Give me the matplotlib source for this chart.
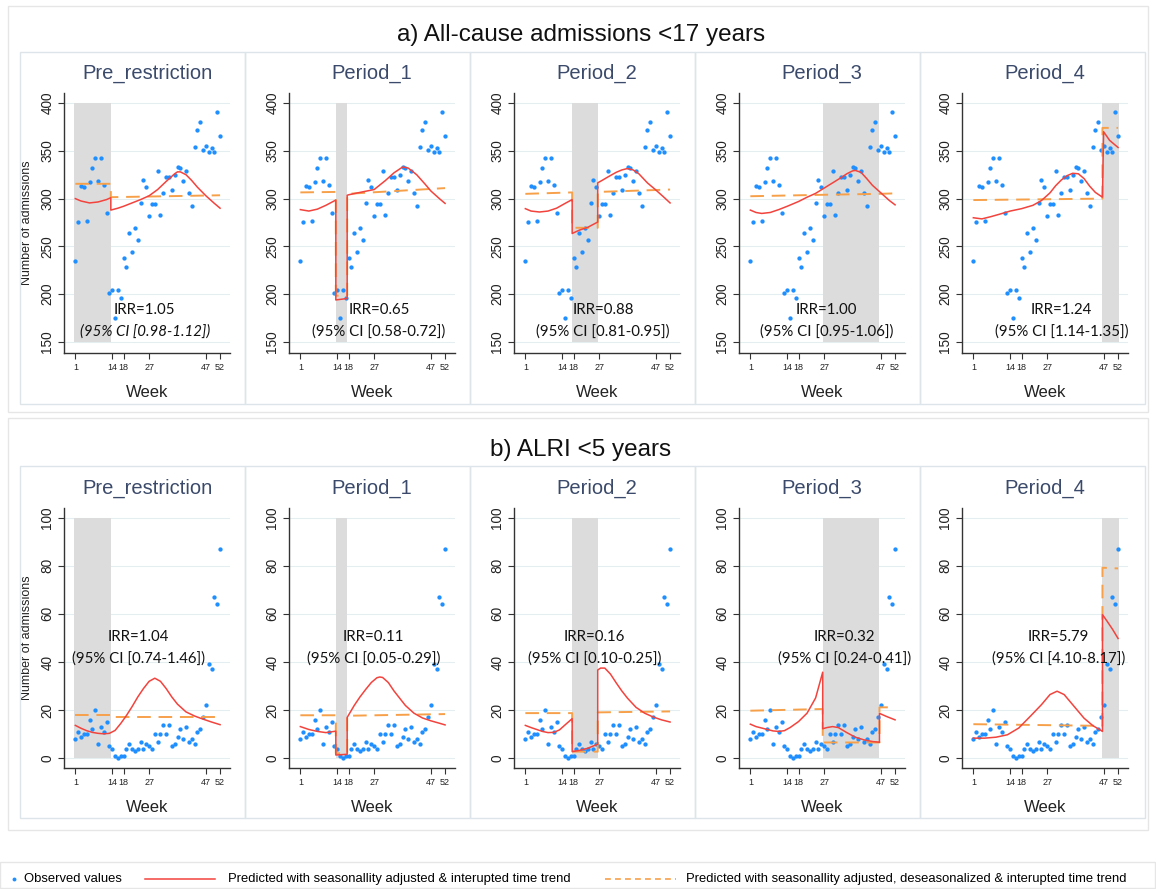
import numpy as np
import matplotlib.pyplot as plt
from matplotlib.patches import Rectangle
from matplotlib.lines import Line2D

plt.rcParams['font.family'] = ['Liberation Sans', 'DejaVu Sans']

# ---- data ----
weeks = np.arange(1, 53)
xticks = [1, 14, 18, 27, 47, 52]
panel_names = ['Pre_restriction', 'Period_1', 'Period_2', 'Period_3', 'Period_4']
shade_spans = [(0.5, 13.5), (13.5, 17.5), (17.5, 26.5), (26.5, 46.5), (46.5, 52.5)]

allcause_obs = [235, 276, 313, 312, 277, 317, 332, 343, 318, 342, 314, 285, 201, 204, 175, 204,
                196, 238, 228, 264, 244, 269, 257, 295, 320, 312, 282, 294, 294, 329, 283, 306,
                323, 323, 309, 325, 333, 332, 318, 329, 306, 292, 354, 372, 380, 351, 355, 349,
                353, 349, 391, 365]
alri_obs = [8, 11, 9, 10, 10, 16, 12, 20, 6, 13, 11, 15, 5, 4, 1, 0, 1, 1, 4, 6, 4, 3, 4, 7, 4, 6,
            5, 4, 10, 7, 10, 14, 10, 14, 5, 6, 9, 12, 8, 13, 7, 8, 6, 11, 12, 17, 22, 39, 37, 67,
            64, 87]

# all-cause, red (seasonality adjusted & interrupted trend)
ac_red_x = [
    [1, 3, 6, 9, 12, 13.5, 13.5, 16, 18, 21, 24, 27, 30, 33, 36, 37, 38, 40, 42, 44, 47, 50, 52],
    [1, 4, 7, 10, 13.5, 13.5, 17.5, 17.5, 18, 22, 27, 31, 34, 37, 39, 42, 45, 47, 50, 52],
    [1, 3, 6, 9, 12, 15, 17.5, 17.5, 20, 23, 26.5, 26.5, 28, 30, 33, 35, 37, 39, 41, 44, 47, 50, 52],
    [1, 3, 5, 8, 11, 14, 18, 21, 24, 27, 30, 33, 35, 37, 38, 40, 42, 44, 47, 50, 52],
    [1, 4, 7, 10, 14, 18, 22, 25, 28, 30, 32, 34, 36, 38, 40, 42, 44, 46.5, 46.9, 49, 52],
]
ac_red_y = [
    [300, 297.5, 295.5, 296.5, 299, 301, 288, 290, 292, 295.5, 299, 303, 309.5, 318, 326, 328, 328, 325, 319, 312, 303, 295, 290],
    [288.5, 287, 289, 293, 298.5, 194, 195.5, 303.5, 304, 306.5, 309.5, 319, 327, 333, 332, 325, 315, 308, 300, 295],
    [289.5, 287, 286, 287, 290, 295, 299, 263.5, 267, 270, 275.5, 316.5, 319, 322.5, 327.5, 330, 331.5, 330, 326, 316.5, 309, 301, 295.5],
    [288, 285.5, 284.5, 285.5, 288.5, 292, 297, 301.5, 305.5, 311, 316.5, 322, 326, 329, 329.5, 327.5, 321, 314, 306, 298, 293.5],
    [280, 278.8, 281, 283.5, 287, 289.5, 293, 298, 306, 313.5, 319.5, 324, 326.5, 326, 321, 313, 306.5, 301.5, 370, 361, 353.5],
]
# all-cause, orange (deseasonalized & interrupted trend)
ac_org_x = [
    [1, 13.5, 13.5, 52],
    [1, 13.5, 13.5, 17.5, 17.5, 52],
    [1, 17.5, 17.5, 26.5, 26.5, 52],
    [1, 26.5, 46.5, 52],
    [1, 46.5, 46.5, 52],
]
ac_org_y = [
    [315.5, 315.5, 301.5, 303.5],
    [306.5, 307, 198.5, 198.5, 305, 311],
    [305, 306.5, 269.5, 269.5, 307, 309.5],
    [302.5, 304, 305, 305.5],
    [298.5, 300, 374, 374],
]
ac_irr = ['IRR=1.05', 'IRR=0.65', 'IRR=0.88', 'IRR=1.00', 'IRR=1.24']
ac_ci = ['(95% CI [0.98-1.12])', '(95% CI [0.58-0.72])', '(95% CI [0.81-0.95])',
         '(95% CI [0.95-1.06])', '(95% CI [1.14-1.35])']
ac_irr_x = [25.5, 28.7, 28.4, 27.9, 32]

# ALRI, red
al_red_x = [
    [1, 3, 5, 7, 9, 11, 13, 15, 17, 19, 21, 23, 25, 27, 29, 31, 33, 35, 37, 40, 43, 46, 49, 52],
    [1, 4, 7, 10, 13.5, 13.5, 17.5, 17.5, 20, 22, 24, 26, 28, 29, 30, 32, 34, 36, 38, 41, 44, 47, 50, 52],
    [1, 3, 5, 7, 9, 11, 13, 15, 17.5, 17.5, 20, 23, 26.5, 26.5, 27.5, 29, 31, 33, 35, 37, 40, 43, 46, 49, 52],
    [1, 3, 5, 7, 9, 11, 13, 15, 18, 21, 24, 26.5, 26.5, 28, 30, 32, 35, 38, 41, 44, 46.5, 46.5, 49, 52],
    [1, 5, 9, 13, 17, 21, 25, 28, 30.5, 33, 36, 40, 43, 46.5, 46.5, 48, 50, 52],
]
al_red_y = [
    [13.7, 12.5, 11.5, 10.8, 10.4, 10.2, 10.4, 11.6, 14.5, 17.8, 21.5, 25.5, 29, 32, 33.3, 32, 29, 25.5, 22.5, 19.3, 17.6, 16.3, 15.1, 14],
    [13.2, 12, 11.2, 10.7, 11.3, 1.4, 1.7, 17, 22, 25.5, 28.6, 31.5, 33.5, 33.8, 33.6, 31.5, 28, 25, 22, 18.8, 16.8, 15.6, 14.6, 13.9],
    [13.7, 12.8, 12, 11.2, 10.7, 10.8, 11.8, 13.9, 16.5, 2.8, 3.3, 4.2, 5.9, 36.7, 37.5, 37.5, 35, 31.4, 28, 25, 21.2, 18.8, 17.2, 16, 15.1],
    [14.2, 13.2, 12.6, 12, 11.4, 11.2, 11.5, 12.8, 15.3, 18.8, 25.1, 35.8, 12.3, 12.8, 13.2, 12.8, 10.7, 8.8, 7.7, 7, 6.7, 18.7, 17.4, 16],
    [8.4, 8.4, 8.8, 9.8, 12.6, 17.4, 22.3, 26.5, 27.9, 26.5, 22.3, 16.7, 13.7, 11.2, 59.7, 57.2, 53.7, 49.8],
]
al_org_x = [
    [1, 13.5, 13.5, 52],
    [1, 13.5, 13.5, 17.5, 17.5, 52],
    [1, 17.5, 17.5, 26.5, 26.5, 52],
    [1, 26.5, 26.5, 46.5, 46.5, 52],
    [1, 46.5, 46.5, 52],
]
al_org_y = [
    [17.9, 17.9, 17.3, 17.3],
    [17.9, 17.9, 2.1, 2.1, 17.7, 18.4],
    [18.8, 18.8, 2.8, 2.8, 19.1, 19.5],
    [19.8, 20.5, 6.6, 6.6, 21.2, 21.2],
    [14.2, 13.5, 79.2, 78.9],
]
al_irr = ['IRR=1.04', 'IRR=0.11', 'IRR=0.16', 'IRR=0.32', 'IRR=5.79']
al_ci = ['(95% CI [0.74-1.46])', '(95% CI [0.05-0.29])', '(95% CI [0.10-0.25])',
         '(95% CI [0.24-0.41])', '(95% CI [4.10-8.17])']
al_irr_x = [23.1, 26.7, 25.3, 34.3, 31]

# ---- styling ----
W, H = 1156, 889
BLUE = '#1f8fff'
RED = '#f2433d'
ORANGE = '#f7a04a'
SHADE = '#dcdcdc'
TITLE_C = '#3b4a6b'
BOX_C = '#dde5ea'
NARROW = ['Liberation Sans Narrow', 'Liberation Sans', 'DejaVu Sans']

fig = plt.figure(figsize=(W / 100, H / 100), dpi=100)


def px_axes(l, t, w, h):
    return fig.add_axes([l / W, 1 - (t + h) / H, w / W, h / H])


def box(l, t, w, h, ec, lw=1.0):
    fig.add_artist(Rectangle((l / W, 1 - (t + h) / H), w / W, h / H,
                             transform=fig.transFigure, fill=False, ec=ec, lw=lw))


# frames
box(8, 6, 1140, 406, '#e6e6e6')
box(8, 418, 1140, 412, '#e6e6e6')
for i in range(5):
    box(20 + 225 * i, 52, 225, 352, BOX_C)
    box(20 + 225 * i, 466, 225, 352, BOX_C)
box(0, 862, 1155, 26, '#e6e6e6')

fig.text(581 / W, 1 - 35 / H, 'a) All-cause admissions <17 years', ha='center', va='center',
         fontsize=17.5, color='#111111')
fig.text(581 / W, 1 - 450 / H, 'b) ALRI <5 years', ha='center', va='center',
         fontsize=17.5, color='#111111')

lefts = [64, 289, 514, 739, 962]
rows = [
    dict(top=93, obs=allcause_obs, rx=ac_red_x, ry=ac_red_y, ox=ac_org_x, oy=ac_org_y,
         irr=ac_irr, ci=ac_ci, ix=ac_irr_x, iy=(184, 161), span=(150, 400),
         ylim=(138.5, 410.5), yt=[150, 200, 250, 300, 350, 400]),
    dict(top=508, obs=alri_obs, rx=al_red_x, ry=al_red_y, ox=al_org_x, oy=al_org_y,
         irr=al_irr, ci=al_ci, ix=al_irr_x, iy=(50.6, 41.5), span=(0, 100),
         ylim=(-4, 104), yt=[0, 20, 40, 60, 80, 100]),
]

for r, row in enumerate(rows):
    for i in range(5):
        ax = px_axes(lefts[i], row['top'], 166, 260)
        ax.set_axisbelow(True)
        a, b = shade_spans[i]
        ax.fill_between([a, b], row['span'][0], row['span'][1], color=SHADE, lw=0, zorder=1)
        ax.plot(weeks, row['obs'], 'o', color=BLUE, ms=3.1, mec='none', zorder=3)
        ax.plot(row['ox'][i], row['oy'][i], color=ORANGE, lw=1.4, dashes=(7, 4), zorder=4)
        ax.plot(row['rx'][i], row['ry'][i], color=RED, lw=1.1, zorder=5)
        ax.set_xlim(-3, 55.5)
        ax.set_ylim(*row['ylim'])
        ax.set_yticks(row['yt'])
        ax.set_yticklabels([str(v) for v in row['yt']], rotation=90, va='center',
                           fontsize=9.8, color='#222222')
        ax.set_xticks(xticks)
        ax.set_xticklabels([str(v) for v in xticks], fontsize=6.5, color='#222222')
        ax.tick_params(axis='both', direction='out', length=4, width=0.8, color='#333333')
        ax.tick_params(axis='y', pad=3)
        ax.yaxis.grid(True, color='#e4eef1', lw=0.8)
        for s in ['top', 'right']:
            ax.spines[s].set_visible(False)
        for s in ['left', 'bottom']:
            ax.spines[s].set_color('#333333')
            ax.spines[s].set_linewidth(1.0)
        ax.set_xlabel('Week', fontsize=12, labelpad=9, color='#222222')
        if i == 0:
            ax.set_ylabel('Number of admissions', fontsize=9, labelpad=5, color='#222222')
        ax.set_title(panel_names[i], fontsize=14.5, color=TITLE_C, pad=10)
        ax.text(row['ix'][i], row['iy'][0], row['irr'][i], ha='center', va='center',
                fontsize=10.8, family=['Lato', 'DejaVu Sans'], color='#111111', zorder=6)
        style = 'italic' if (r == 0 and i == 0) else 'normal'
        ax.text(row['ix'][i], row['iy'][1], row['ci'][i], ha='center', va='center',
                fontsize=10.8, family=['Lato', 'DejaVu Sans'], style=style,
                color='#111111', zorder=6)

# legend strip
lg = fig.add_axes([0, 0, 1, 27 / H])
lg.set_xlim(0, W)
lg.set_ylim(0, 27)
lg.axis('off')
ly = 10
lg.add_line(Line2D([14], [ly], marker='o', ms=2.8, color=BLUE, mec='none', ls='none'))
lg.text(24, ly, 'Observed values', va='center', fontsize=9.4, family=NARROW)
lg.add_line(Line2D([145, 215], [ly, ly], color=RED, lw=1.1))
lg.text(228, ly, 'Predicted with seasonallity adjusted & interupted time trend', va='center',
        fontsize=9.4, family=NARROW)
lg.add_line(Line2D([605, 676], [ly, ly], color=ORANGE, lw=1.2, dashes=(3.5, 2.5)))
lg.text(686, ly, 'Predicted with seasonallity adjusted, deseasonalized & interupted time trend',
        va='center', fontsize=9.4, family=NARROW)

fig.savefig('out.png', dpi=100)
